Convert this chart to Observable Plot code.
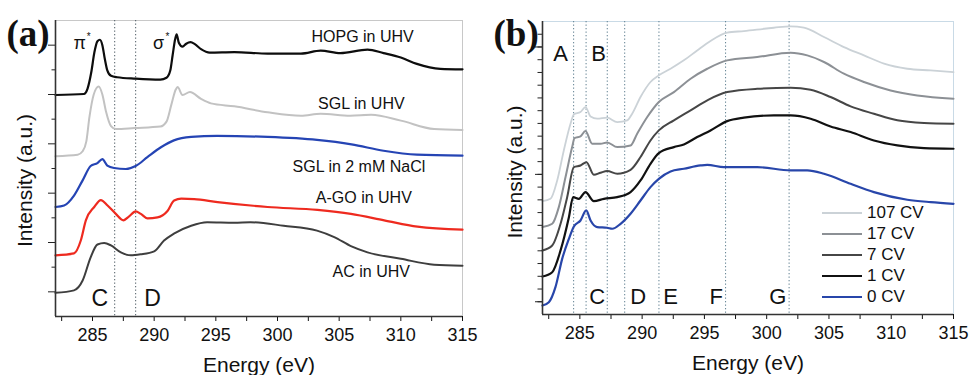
<!DOCTYPE html>
<html><head><meta charset="utf-8">
<script src="https://cdn.jsdelivr.net/npm/d3@7"></script>
<script src="https://cdn.jsdelivr.net/npm/@observablehq/plot@0.6"></script>
<style>
html,body{margin:0;padding:0;background:#fff;}
#wrap{position:relative;width:970px;height:375px;display:flex;overflow:hidden;}
.panel{position:relative;width:485px;height:375px;}
.panel svg{overflow:visible;}
.legend{position:absolute;left:337px;top:202px;font:17px "Liberation Sans",Arial,sans-serif;color:#111;}
.legend .row{display:flex;align-items:center;height:21px;}
.legend .sw{width:40px;height:0;border-top:2px solid;margin-right:5px;}
</style></head><body>
<div id="wrap"><div class="panel" id="pa"></div><div class="panel" id="pb"></div></div>
<script>
// ---------- Panel (a) data : energy (eV) and intensity (a.u.) ----------
const hopgE = [282.0,284.3,284.6,284.9,285.15,285.4,285.6,285.8,286.0,286.2,286.5,287.0,288.5,290.5,291.0,291.3,291.5,291.7,291.82,292.0,292.3,292.6,292.95,293.3,293.8,294.5,296.5,299.2,301.9,303.5,305.1,307.3,308.6,310.0,311.3,313.2,315];
const hopgI = [4.49,4.51,4.62,4.95,5.35,5.58,5.61,5.50,5.22,4.99,4.88,4.85,4.82,4.80,4.84,4.98,5.30,5.62,5.72,5.55,5.47,5.53,5.56,5.52,5.42,5.35,5.36,5.33,5.33,5.39,5.34,5.41,5.34,5.25,5.12,5.02,5.01];
const sglE = [282.0,283.8,284.2,284.5,284.75,285.1,285.5,285.8,286.1,286.5,286.9,288.4,290.5,291.0,291.4,291.75,291.9,292.3,292.9,293.8,294.6,296.5,299.2,301.9,303.5,305.9,307.6,310.0,312.7,315];
const sglI = [3.25,3.28,3.35,3.55,4.04,4.50,4.66,4.50,4.15,3.86,3.80,3.82,3.85,3.95,4.30,4.60,4.65,4.49,4.55,4.41,4.32,4.26,4.14,4.07,4.11,4.07,4.09,3.97,3.80,3.78];
const naclE = [282.0,282.7,283.5,284.2,284.85,285.4,285.8,286.2,286.75,287.7,288.5,289.45,290.55,291.6,293.0,295.1,299.2,303.2,306.0,308.6,311.3,315];
const naclI = [2.22,2.25,2.45,2.76,3.05,3.11,3.19,3.06,3.01,2.99,3.05,3.23,3.43,3.57,3.64,3.66,3.64,3.58,3.49,3.36,3.28,3.26];
const agoE = [282.0,283.5,284.05,284.46,285.14,285.68,286.22,286.89,287.5,287.97,288.5,288.92,289.46,290.27,291.08,291.62,292.2,293.24,295.14,299.19,303.24,305.95,308.65,311.35,315];
const agoI = [1.24,1.28,1.54,1.95,2.22,2.36,2.25,2.08,1.95,2.03,2.13,2.08,1.99,2.01,2.14,2.35,2.39,2.38,2.32,2.22,2.16,2.08,1.95,1.82,1.76];
const acE = [282.0,283.5,284.2,284.85,285.4,285.95,286.5,287.3,288.1,288.9,290.0,290.8,291.6,293.0,294.3,296.5,297.8,300.5,303.2,304.6,306.0,307.3,310.0,312.7,315];
const acI = [0.48,0.53,0.73,1.20,1.46,1.49,1.44,1.30,1.24,1.26,1.32,1.54,1.68,1.84,1.91,1.90,1.91,1.84,1.74,1.61,1.42,1.30,1.17,1.05,1.03];
const markersA = [286.8, 288.5];
const labelsA = ["HOPG in UHV","SGL in UHV","SGL in 2 mM NaCl","A-GO in UHV","AC in UHV"];
const labelEA = [306.9,306.8,306.6,307.0,307.6];
const labelIA = [5.66,4.31,3.03,2.40,0.90];
const peakNames = ["π","σ"];
const peakE = [283.97,290.35];
const peakI = [5.53,5.53];
const regionA = ["C","D"];
const regionEA = [285.6,289.87];
const regionIA = [0.36,0.36];

// ---------- Panel (b) data ----------
const cv107E = [282.0,282.64,283.18,283.71,284.25,284.52,285.05,285.45,285.86,286.39,287.19,288.0,288.8,289.2,289.87,290.67,291.34,292.28,293.35,294.42,295.49,296.83,298.17,300.58,301.92,302.99,304.6,306.2,307.81,309.42,311.29,313.16,315];
const cv107I = [8.90,9.08,10.52,12.88,14.97,15.71,15.89,16.28,15.55,15.37,15.45,15.10,15.24,15.76,17.07,18.25,18.77,19.29,19.95,20.73,21.47,22.12,22.25,22.51,22.62,22.51,21.78,20.99,20.34,19.69,19.29,19.16,19.03];
const cv17E = [282.0,282.78,283.31,283.85,284.38,284.57,285.05,285.45,285.99,286.66,287.19,288.0,289.07,289.6,290.41,291.34,292.55,293.89,295.23,296.83,299.24,301.92,303.26,304.6,306.2,307.81,309.95,312.09,315];
const cv17I = [6.86,7.12,8.43,10.79,13.14,13.85,13.98,14.40,13.40,13.40,13.51,13.14,13.27,14.19,15.50,16.68,17.46,18.51,19.29,19.95,20.21,20.55,20.34,19.82,18.90,18.25,17.59,17.20,16.94];
const cv7E = [282.0,282.78,283.45,283.98,284.52,285.05,285.53,286.12,286.66,287.19,288.0,289.07,289.87,290.67,291.34,292.55,293.89,295.3,296.83,299.24,301.92,303.53,305.13,306.74,308.61,310.49,312.63,315];
const cv7I = [5.03,5.42,7.12,9.21,11.57,11.70,11.96,10.97,11.13,11.26,11.05,11.36,12.36,13.66,14.45,15.24,16.02,16.85,17.46,17.72,17.80,17.64,17.07,16.34,15.76,15.24,15.03,14.97];
const cv1E = [282.0,282.78,283.45,284.12,284.46,284.92,285.45,286.12,286.93,288.0,289.07,289.87,290.67,291.34,292.55,293.35,294.42,295.49,296.83,298.17,300.58,301.92,303.53,305.13,306.74,308.61,310.49,312.63,315];
const cv1I = [2.98,3.32,5.03,7.64,9.21,9.08,9.61,8.90,9.08,9.21,9.61,10.52,11.83,12.67,13.14,13.35,13.93,14.45,15.18,15.45,15.63,15.63,15.37,14.76,14.32,13.66,13.27,13.06,13.01];
const cv0E = [282.0,282.51,283.04,283.58,284.12,284.52,285.05,285.51,285.86,286.39,287.19,287.6,288.27,289.07,289.87,290.67,291.34,292.28,293.35,294.69,295.23,296.57,299.24,301.92,303.26,304.6,306.74,308.61,311.29,313.16,315];
const cv0I = [0.71,0.97,2.15,4.37,5.94,6.91,7.38,8.17,7.38,6.86,6.81,6.73,7.12,7.91,8.95,10.0,10.65,11.23,11.44,11.70,11.75,11.57,11.57,11.31,11.31,11.05,10.26,9.61,9.01,8.82,8.69];
const markersB = [284.5,285.5,287.2,288.6,291.35,296.7,301.8];
const regionB = ["A","B","C","D","E","F","G"];
const regionEB = [283.45,286.5,286.4,289.69,292.28,295.95,300.9];
const regionIB = [20.46,20.46,1.41,1.41,1.41,1.41,1.41];
const legendNames = ["107 CV","17 CV","7 CV","1 CV","0 CV"];

// ---------- Axis ticks ----------
const xMajor = [285,290,295,300,305,310,315];
const xMinor = [282.5,287.5,292.5,297.5,302.5,307.5,312.5];
const yMajorA = [0.5,1.5,2.5,3.5,4.5,5.5];
const yMinorA = [1,2,3,4,5];
const yTicksB = [1,2,3,4,5,6,7,8,9,10,11,12,13,14,15,16,17,18,19,20,21,22];
const yMajorB = [1,11,21];

// ---------- helpers ----------
const rows = (E, I) => E.map((e, k) => ({e, v: I[k]}));
const zipLabels = (T, E, I) => T.map((t, k) => ({t, e: E[k], v: I[k]}));
const FONT = "'Liberation Sans', Arial, Helvetica, sans-serif";

function axes(yMaj, yMin, majLen, minLen, x0, y0, axisColor) {
  return [
    Plot.axisX({ticks: xMajor, tickSize: 5, tickPadding: 7, fontSize: 18, tickFormat: d => String(d), label: null, color: "#111"}),
    Plot.axisX({ticks: xMinor, tickSize: 5, tickFormat: () => "", label: null, color: "#111"}),
    Plot.axisY({ticks: yMaj, tickSize: majLen, tickFormat: () => "", label: null, color: "#222"}),
    Plot.axisY({ticks: yMin, tickSize: minLen, tickFormat: () => "", label: null, color: "#222"}),
    Plot.ruleX([x0], {stroke: axisColor, strokeWidth: 1.6}),
    Plot.ruleY([y0], {stroke: axisColor, strokeWidth: 1.6})
  ];
}
function titles(dxY, dyY, dyX) {
  return [
    Plot.text(["Intensity (a.u.)"], {text: d => d, frameAnchor: "left", textAnchor: "middle", lineAnchor: "middle", rotate: -90, dx: dxY, dy: dyY, fontSize: 21, fill: "#111"}),
    Plot.text(["Energy (eV)"], {text: d => d, frameAnchor: "bottom", textAnchor: "middle", lineAnchor: "middle", dy: dyX, fontSize: 21, fill: "#111"})
  ];
}

// ---------- Panel (a) ----------
const plotA = Plot.plot({
  width: 485, height: 375,
  marginLeft: 55, marginRight: 23, marginTop: 20, marginBottom: 59,
  style: {fontFamily: FONT, background: "white", overflow: "visible"},
  x: {domain: [282, 315], label: null},
  y: {domain: [0, 6], label: null},
  marks: [
    Plot.frame({stroke: "#c8c8c8", strokeWidth: 1}),
    Plot.ruleX(markersA, {stroke: "#4d5a63", strokeWidth: 1, strokeDasharray: "1.3,2.2"}),
    Plot.line(rows(hopgE, hopgI), {x: "e", y: "v", stroke: "#0d0d0d", strokeWidth: 2.2, curve: "monotone-x"}),
    Plot.line(rows(sglE, sglI), {x: "e", y: "v", stroke: "#c2c2c2", strokeWidth: 2, curve: "monotone-x"}),
    Plot.line(rows(naclE, naclI), {x: "e", y: "v", stroke: "#2544b4", strokeWidth: 2.2, curve: "monotone-x"}),
    Plot.line(rows(agoE, agoI), {x: "e", y: "v", stroke: "#ee2a1f", strokeWidth: 2.2, curve: "monotone-x"}),
    Plot.line(rows(acE, acI), {x: "e", y: "v", stroke: "#3e3e3e", strokeWidth: 2, curve: "monotone-x"}),
    ...axes(yMajorA, yMinorA, 7, 3.5, 282, 0, "#333"),
    Plot.text(zipLabels(labelsA, labelEA, labelIA), {x: "e", y: "v", text: "t", fontSize: 16, fill: "#111"}),
    Plot.text(zipLabels(peakNames, peakE, peakI), {x: "e", y: "v", text: "t", fontSize: 18, fill: "#111"}),
    Plot.text(zipLabels(peakNames.map(() => "*"), peakE, peakI), {x: "e", y: "v", text: "t", fontSize: 10, dx: 9, dy: -7, fill: "#111"}),
    Plot.text(zipLabels(regionA, regionEA, regionIA), {x: "e", y: "v", text: "t", fontSize: 23, fill: "#111"}),
    Plot.text(["(a)"], {text: d => d, frameAnchor: "top-left", textAnchor: "start", lineAnchor: "middle", dx: -49, dy: 14, fontSize: 37, fontWeight: "bold", fontFamily: "'Liberation Serif', 'Times New Roman', serif", fill: "#111"}),
    ...titles(-30, 12, 49)
  ]
});
document.getElementById("pa").appendChild(plotA);

// ---------- Panel (b) ----------
const plotB = Plot.plot({
  width: 485, height: 375,
  marginLeft: 57, marginRight: 17, marginTop: 21, marginBottom: 61,
  style: {fontFamily: FONT, background: "white", overflow: "visible"},
  x: {domain: [282, 315], label: null},
  y: {domain: [0, 23], label: null},
  marks: [
    Plot.frame({stroke: "#c9dae6", strokeWidth: 1}),
    Plot.ruleX(markersB, {stroke: "#5f7f90", strokeWidth: 1, strokeDasharray: "1.3,2.2"}),
    Plot.line(rows(cv107E, cv107I), {x: "e", y: "v", stroke: "#cbd2d7", strokeWidth: 1.8, curve: "monotone-x"}),
    Plot.line(rows(cv17E, cv17I), {x: "e", y: "v", stroke: "#8c9095", strokeWidth: 2, curve: "monotone-x"}),
    Plot.line(rows(cv7E, cv7I), {x: "e", y: "v", stroke: "#464646", strokeWidth: 2, curve: "monotone-x"}),
    Plot.line(rows(cv1E, cv1I), {x: "e", y: "v", stroke: "#111111", strokeWidth: 2.2, curve: "monotone-x"}),
    Plot.line(rows(cv0E, cv0I), {x: "e", y: "v", stroke: "#2846aa", strokeWidth: 2.2, curve: "monotone-x"}),
    ...axes(yMajorB, yTicksB, 7, 4.5, 282, 0, "#333"),
    Plot.text(zipLabels(regionB, regionEB, regionIB), {x: "e", y: "v", text: "t", fontSize: 22, fill: "#111"}),
    Plot.text(["(b)"], {text: d => d, frameAnchor: "top-left", textAnchor: "start", lineAnchor: "middle", dx: -49, dy: 13, fontSize: 37, fontWeight: "bold", fontFamily: "'Liberation Serif', 'Times New Roman', serif", fill: "#111"}),
    ...titles(-27, 4, 48.5)
  ]
});
document.getElementById("pb").appendChild(plotB);

// legend (panel b)
const legendColors = ["#cbd2d7", "#8c9095", "#464646", "#111111", "#2846aa"];
const leg = document.createElement("div");
leg.className = "legend";
legendNames.forEach((n, k) => {
  const r = document.createElement("div"); r.className = "row";
  const s = document.createElement("span"); s.className = "sw"; s.style.borderTopColor = legendColors[k];
  const t = document.createElement("span"); t.textContent = n;
  r.appendChild(s); r.appendChild(t); leg.appendChild(r);
});
document.getElementById("pb").appendChild(leg);
</script>
</body></html>
